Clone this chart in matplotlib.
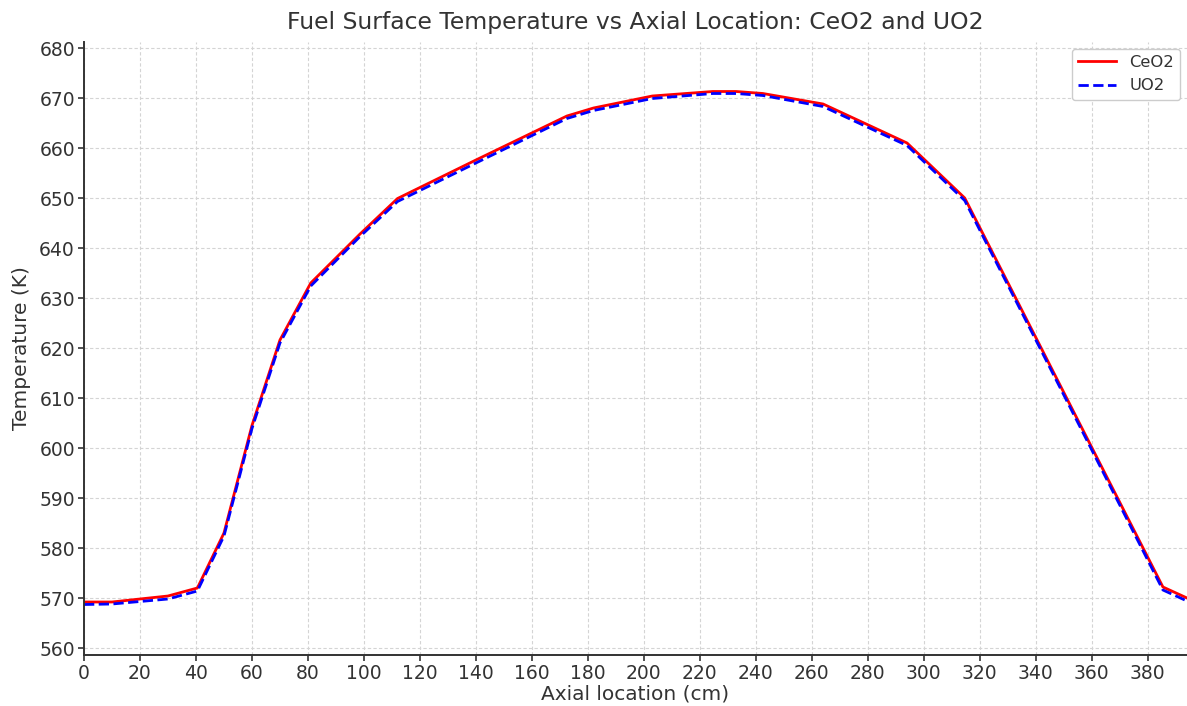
import matplotlib

matplotlib.use('Agg')
import matplotlib.pyplot as plt

# axial node positions (cm) and surface temperatures (K)
axial_cm = [0, 10, 30, 40.5, 50, 60, 70, 81, 98.6, 112, 140, 172.5, 182,
            203, 224.6, 233, 242.5, 264, 294, 314.6, 340, 362, 385.4, 394]
ceo2_temp = [569.2, 569.2, 570.4, 572.0, 583.0, 604.5, 621.6, 633.0, 642.8,
             649.9, 657.6, 666.4, 668.0, 670.4, 671.3, 671.3, 670.9, 668.8,
             661.0, 650.0, 622.1, 597.9, 572.2, 570.0]
uo2_temp = [568.7, 568.8, 569.8, 571.4, 582.4, 603.9, 621.0, 632.4, 642.3,
            649.3, 657.0, 665.9, 667.5, 669.9, 670.9, 670.9, 670.5, 668.3,
            660.5, 649.5, 621.6, 597.4, 571.6, 569.4]

text_color = '#333333'
plt.rcParams['text.color'] = text_color
plt.rcParams['axes.labelcolor'] = text_color

fig = plt.figure(figsize=(11.87, 7.06), dpi=100)
ax = fig.add_axes([84 / 1187, 51 / 706, (1187 - 84) / 1187, (655 - 42) / 706])

ax.plot(axial_cm, ceo2_temp, color='red', linewidth=2, label='CeO2')
ax.plot(axial_cm, uo2_temp, color='blue', linewidth=2, linestyle='--', label='UO2')

ax.set_xlim(0, 394)
ax.set_ylim(558.6, 681.2)
ax.set_xticks(range(0, 381, 20))
ax.set_yticks(range(560, 681, 10))
ax.tick_params(labelsize=13.5, length=4, width=1.2, pad=2.5, colors=text_color)
ax.grid(True, linestyle=(0, (3, 2)), color='#d4d4d4', linewidth=0.8)
ax.set_axisbelow(True)

for side in ['top', 'right']:
    ax.spines[side].set_visible(False)
for side in ['left', 'bottom']:
    ax.spines[side].set_color(text_color)
    ax.spines[side].set_linewidth(1.4)

ax.set_title('Fuel Surface Temperature vs Axial Location: CeO2 and UO2', fontsize=16.9, pad=9)
ax.set_xlabel('Axial location (cm)', fontsize=14.5, labelpad=1)
ax.set_ylabel('Temperature (K)', fontsize=14.5, labelpad=6)
ax.legend(loc='upper right', fontsize=11.8, framealpha=1, edgecolor='#cccccc',
          borderaxespad=0.4, handlelength=2.3)

fig.savefig('out.png', dpi=100)
plt.close(fig)
